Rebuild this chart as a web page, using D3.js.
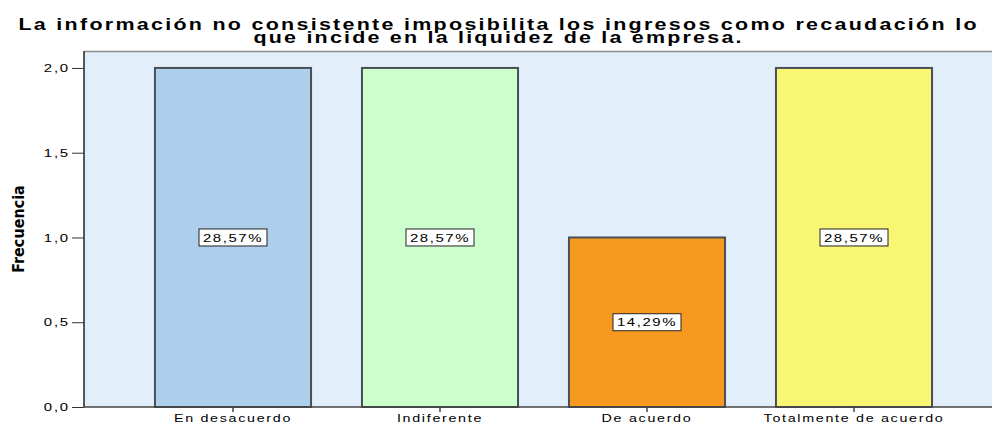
<!DOCTYPE html>
<html>
<head>
<meta charset="utf-8">
<script src="https://cdn.jsdelivr.net/npm/d3@7"></script>
<style>
  body { margin: 0; background: #fff; }
  svg { display: block; font-family: "Liberation Sans", Arial, sans-serif; }
</style>
</head>
<body>
<div id="chart"></div>
<script>
// data
const categories = ['En desacuerdo', 'Indiferente', 'De acuerdo', 'Totalmente de acuerdo'];
const frequencies = [2, 2, 1, 2];
const percentLabels = ['28,57%', '28,57%', '14,29%', '28,57%'];
const barColors = ['#aecfec', '#ccffcc', '#f8991f', '#f9f674'];
const yTicks = [0, 0.5, 1, 1.5, 2];
const titleLines = [
  'La información no consistente imposibilita los ingresos como recaudación lo',
  'que incide en la liquidez de la empresa.'
];

const width = 992, height = 424;
const plot = { left: 84, right: 992, top: 51, bottom: 407 };

const svg = d3.select('#chart').append('svg')
  .attr('width', width)
  .attr('height', height);

// comma decimal like the original
const es = d3.formatLocale({ decimal: ',', thousands: '.', grouping: [3], currency: ['', '€'] });
const fmt = es.format('.1f');

// the original export draws its glyphs stretched sideways
function stretch(sel, k) {
  sel.each(function () {
    const t = d3.select(this);
    const x0 = +t.attr('x') || 0;
    t.attr('transform', `translate(${x0},0) scale(${k},1) translate(${-x0},0)`);
  });
}

const x = d3.scaleBand()
  .domain(categories)
  .range([129.5, 957.5])
  .paddingInner(0.246)
  .paddingOuter(0.123);

const y = d3.scaleLinear()
  .domain([0, 2.1])
  .range([plot.bottom, plot.top]);

// plot background
svg.append('rect')
  .attr('x', plot.left).attr('y', plot.top)
  .attr('width', plot.right - plot.left)
  .attr('height', plot.bottom - plot.top)
  .attr('fill', '#e2eefa');

svg.append('line')
  .attr('x1', plot.left).attr('x2', plot.right)
  .attr('y1', plot.top + 0.5).attr('y2', plot.top + 0.5)
  .attr('stroke', '#8c8c8c').attr('stroke-width', 1.5);

// bars
const bars = svg.selectAll('.bar')
  .data(categories)
  .enter().append('g')
  .attr('class', 'bar');

bars.append('rect')
  .attr('x', d => x(d))
  .attr('y', (d, i) => y(frequencies[i]))
  .attr('width', x.bandwidth())
  .attr('height', (d, i) => y(0) - y(frequencies[i]))
  .attr('fill', (d, i) => barColors[i])
  .attr('stroke', '#4a4f55')
  .attr('stroke-width', 2);

// percentage boxes in the middle of each bar
const labels = bars.append('g')
  .attr('transform', (d, i) => `translate(${x(d) + x.bandwidth() / 2},${y(frequencies[i] / 2)})`);

labels.append('rect')
  .attr('x', -34).attr('y', -8.5)
  .attr('width', 68).attr('height', 17)
  .attr('fill', '#fff')
  .attr('stroke', '#222')
  .attr('stroke-width', 1);

labels.append('text')
  .attr('text-anchor', 'middle')
  .attr('dy', '0.36em')
  .attr('font-size', 11.5)
  .attr('letter-spacing', 1.2)
  .attr('fill', '#000')
  .text((d, i) => percentLabels[i])
  .call(stretch, 1.3);

// y axis
const yAxis = svg.append('g')
  .attr('transform', `translate(${plot.left},0)`)
  .call(d3.axisLeft(y).tickValues(yTicks).tickFormat(fmt).tickSize(12).tickPadding(2));
yAxis.select('.domain').attr('d', `M0,${plot.top}V${plot.bottom}`).attr('stroke', '#222').attr('stroke-width', 1.5);
yAxis.selectAll('.tick line').attr('stroke', '#333');
yAxis.selectAll('.tick text')
  .attr('font-size', 11.5)
  .attr('letter-spacing', 1.4)
  .attr('fill', '#000')
  .attr('font-family', '"Liberation Sans", Arial, sans-serif')
  .call(stretch, 1.3);

// x axis
const xAxis = svg.append('g')
  .attr('transform', `translate(0,${plot.bottom})`)
  .call(d3.axisBottom(x).tickSize(5).tickPadding(2));
xAxis.select('.domain').attr('d', `M${plot.left},0H${plot.right}`).attr('stroke', '#444').attr('stroke-width', 1.5);
xAxis.selectAll('.tick line').attr('stroke', '#444').attr('stroke-width', 1.5);
xAxis.selectAll('.tick text')
  .attr('font-size', 11)
  .attr('letter-spacing', 1.3)
  .attr('fill', '#000')
  .attr('font-family', '"Liberation Sans", Arial, sans-serif')
  .call(stretch, 1.3);

// y axis title
svg.append('text')
  .attr('transform', `translate(24,${(plot.top + plot.bottom) / 2}) rotate(-90)`)
  .attr('text-anchor', 'middle')
  .attr('font-family', '"Liberation Sans Narrow", "DejaVu Sans Condensed", sans-serif')
  .attr('font-weight', 'bold')
  .attr('font-size', 16)
  .attr('fill', '#000')
  .text('Frecuencia');

// title, stretched and spaced like the original
const titleWidths = [958, 488];
const titleStretch = 1.3;
svg.selectAll('.title')
  .data(titleLines)
  .enter().append('text')
  .attr('class', 'title')
  .attr('x', 497.5)
  .attr('y', (d, i) => 30 + i * 13.5)
  .attr('text-anchor', 'middle')
  .attr('font-weight', 'bold')
  .attr('font-size', 16.5)
  .attr('fill', '#000')
  .attr('textLength', (d, i) => titleWidths[i] / titleStretch)
  .attr('lengthAdjust', 'spacing')
  .text(d => d)
  .call(stretch, titleStretch);
</script>
</body>
</html>
